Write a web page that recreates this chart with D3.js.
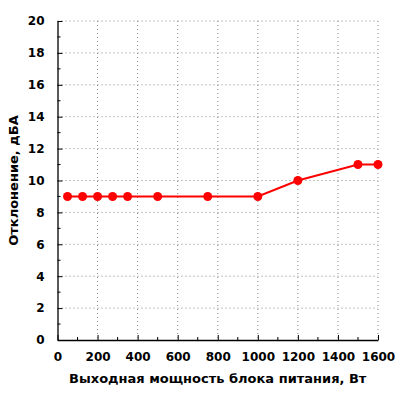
<!DOCTYPE html>
<html>
<head>
<meta charset="utf-8">
<script src="https://cdn.jsdelivr.net/npm/d3@7"></script>
<style>
body { margin: 0; background: #fff; }
text { font-family: "DejaVu Sans", Verdana, sans-serif; font-weight: bold; }
</style>
</head>
<body>
<div id="chart"></div>
<script>
// power output, W
var powerW = [50, 125, 200, 275, 350, 500, 750, 1000, 1200, 1500, 1600];
// deviation, dBA
var deviation = [9, 9, 9, 9, 9, 9, 9, 9, 10, 11, 11];
var xTicks = [0, 200, 400, 600, 800, 1000, 1200, 1400, 1600];
var yTicks = [0, 2, 4, 6, 8, 10, 12, 14, 16, 18, 20];
var xLabel = "Выходная мощность блока питания, Вт";
var yLabel = "Отклонение, дБА";

var svgWidth = 400, svgHeight = 400;
var margin = {top: 21, right: 22, bottom: 60, left: 57.5};
var width = svgWidth - margin.left - margin.right;
var height = svgHeight - margin.top - margin.bottom;

var svg = d3.select("#chart").append("svg")
    .attr("width", svgWidth)
    .attr("height", svgHeight);

var g = svg.append("g")
    .attr("transform", `translate(${margin.left}, ${margin.top})`);

var x = d3.scaleLinear().domain([0, 1600]).range([0, width]);
var y = d3.scaleLinear().domain([0, 20]).range([height, 0]);

// dotted grid
g.selectAll(".vgrid")
    .data(xTicks.filter(d => d > 0))
    .enter().append("line")
    .attr("x1", d => x(d)).attr("x2", d => x(d))
    .attr("y1", 0).attr("y2", height)
    .attr("stroke", "#888").attr("stroke-width", 1)
    .attr("stroke-dasharray", "1,3");

g.selectAll(".hgrid")
    .data(yTicks.filter(d => d > 0))
    .enter().append("line")
    .attr("x1", 0).attr("x2", width)
    .attr("y1", d => y(d)).attr("y2", d => y(d))
    .attr("stroke", "#888").attr("stroke-width", 1)
    .attr("stroke-dasharray", "1,3");

// minor ticks (inward)
g.selectAll(".xminor")
    .data(d3.range(100, 1600, 200))
    .enter().append("line")
    .attr("x1", d => x(d)).attr("x2", d => x(d))
    .attr("y1", height).attr("y2", height - 3)
    .attr("stroke", "#000");

g.selectAll(".yminor")
    .data(d3.range(1, 20, 2))
    .enter().append("line")
    .attr("x1", 0).attr("x2", 3)
    .attr("y1", d => y(d)).attr("y2", d => y(d))
    .attr("stroke", "#000");

// axes with inward ticks
var xAxis = g.append("g")
    .attr("transform", `translate(0, ${height})`)
    .call(d3.axisBottom(x).tickValues(xTicks).tickFormat(d3.format("d"))
        .tickSizeInner(-5).tickSizeOuter(0).tickPadding(12));

var yAxis = g.append("g")
    .call(d3.axisLeft(y).tickValues(yTicks).tickFormat(d3.format("d"))
        .tickSizeInner(-5).tickSizeOuter(0).tickPadding(13));

[xAxis, yAxis].forEach(function(a) {
    a.select(".domain").attr("stroke", "#000").attr("stroke-width", 1.3);
    a.selectAll("text")
        .attr("font-size", "12px")
        .attr("font-family", "DejaVu Sans, Verdana, sans-serif")
        .attr("font-weight", "bold")
        .attr("fill", "#000");
});

// line and points
var line = d3.line()
    .x((d, i) => x(powerW[i]))
    .y(d => y(d));

g.append("path")
    .datum(deviation)
    .attr("fill", "none")
    .attr("stroke", "#ff0000")
    .attr("stroke-width", 2)
    .attr("d", line);

g.selectAll("circle")
    .data(deviation)
    .enter().append("circle")
    .attr("cx", (d, i) => x(powerW[i]))
    .attr("cy", d => y(d))
    .attr("r", 4.5)
    .attr("fill", "#ff0000");

// axis titles
svg.append("text")
    .attr("x", margin.left + width / 2)
    .attr("y", 383)
    .attr("text-anchor", "middle")
    .attr("font-size", "13px")
    .text(xLabel);

svg.append("text")
    .attr("transform", `translate(18, ${margin.top + height / 2}) rotate(-90)`)
    .attr("text-anchor", "middle")
    .attr("font-size", "13px")
    .text(yLabel);
</script>
</body>
</html>
